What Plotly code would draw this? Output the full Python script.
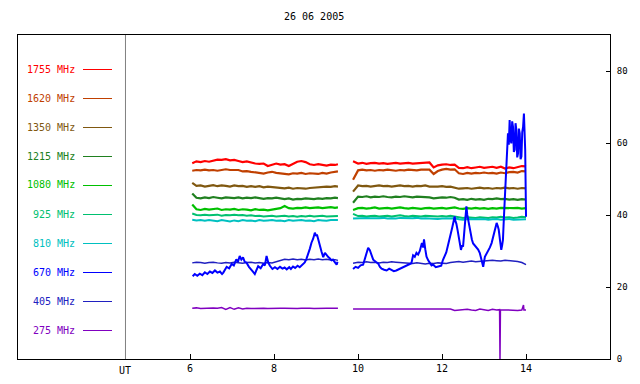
import plotly.graph_objects as go

# ---------------- data ----------------
TITLE = "26 06 2005"
LABELS = ["1755 MHz", "1620 MHz", "1350 MHz", "1215 MHz", "1080 MHz",
          "925 MHz", "810 MHz", "670 MHz", "405 MHz", "275 MHz"]
COLORS = ["#ff0000", "#c04000", "#805810", "#208020", "#00c000",
          "#00c070", "#00c0c0", "#0000ff", "#2020c0", "#8000c0"]
X_TICKS = [6, 8, 10, 12, 14]
Y_TICKS = [0, 20, 40, 60, 80]

T1 = [6.05, 6.15, 6.25, 6.35, 6.45, 6.55, 6.65, 6.75, 6.85, 6.95,
      7.05, 7.15, 7.25, 7.35, 7.45, 7.55, 7.65, 7.75, 7.85, 7.95,
      8.05, 8.15, 8.25, 8.35, 8.45, 8.55, 8.65, 8.75, 8.85, 8.95,
      9.05, 9.15, 9.25, 9.35, 9.45, 9.52]
T2 = [9.88, 10.0, 10.1, 10.2, 10.3, 10.4, 10.5, 10.6, 10.7, 10.8,
      10.9, 11.0, 11.1, 11.2, 11.3, 11.4, 11.5, 11.6, 11.7, 11.8,
      11.9, 12.0, 12.1, 12.2, 12.3, 12.4, 12.5, 12.6, 12.7, 12.8,
      12.9, 13.0, 13.1, 13.2, 13.3, 13.4, 13.5, 13.6, 13.7, 13.8,
      13.9, 14.0]

F1755_A = [54.4, 54.9, 54.7, 55.0, 54.8, 55.2, 55.4, 55.3, 55.5, 55.2,
           55.3, 55.0, 54.7, 54.9, 54.5, 54.3, 54.2, 54.3, 53.6, 53.9,
           54.3, 54.0, 54.1, 53.6, 54.3, 54.8, 55.0, 54.7, 54.1, 53.9,
           54.1, 53.8, 53.7, 54.0, 53.9, 54.1]
F1755_B = [54.9, 54.3, 54.5, 54.2, 54.4, 54.5, 54.3, 54.4, 54.2, 54.3,
           54.5, 54.3, 54.4, 54.5, 54.3, 54.4, 54.6, 54.5, 54.6, 53.2,
           53.8, 54.0, 54.1, 53.9, 54.0, 53.1, 53.0, 53.3, 53.0, 53.2,
           53.4, 53.1, 53.3, 53.4, 53.1, 53.4, 52.9, 53.2, 53.0, 53.3,
           53.6, 53.5]

F1620_A = [52.3, 52.5, 52.4, 52.6, 52.4, 52.5, 52.3, 52.6, 52.7, 52.5,
           52.6, 52.5, 52.1, 52.2, 52.0, 51.9, 51.6, 51.5, 51.8, 52.0,
           51.7, 51.6, 51.5, 51.3, 51.6, 51.5, 51.7, 51.4, 51.6, 51.5,
           51.4, 51.7, 51.5, 51.8, 52.0, 52.1]
F1620_B = [49.8, 52.4, 52.6, 52.4, 52.5, 52.3, 52.5, 52.4, 52.6, 52.5,
           52.3, 52.5, 52.4, 52.6, 52.5, 52.4, 52.6, 52.7, 52.6, 51.4,
           52.2, 52.6, 52.8, 52.6, 52.7, 51.6, 51.4, 51.7, 51.5, 51.7,
           51.6, 51.8, 51.6, 51.7, 51.5, 51.8, 51.6, 51.9, 52.0, 51.8,
           52.2, 52.1]

F1350_A = [48.9, 48.1, 48.2, 47.9, 48.1, 48.3, 48.0, 48.2, 48.1, 47.9,
           48.2, 48.0, 48.1, 47.8, 48.0, 47.8, 48.0, 47.7, 47.9, 47.8,
           47.6, 47.5, 47.4, 47.6, 47.3, 47.5, 47.4, 47.3, 47.5, 47.6,
           47.8, 47.7, 47.9, 47.8, 48.0, 47.9]
F1350_B = [46.5, 48.2, 48.0, 48.1, 47.9, 48.1, 48.2, 48.0, 48.1, 47.9,
           48.0, 48.2, 48.0, 48.1, 47.9, 48.1, 48.0, 48.2, 47.9, 47.8,
           47.9, 48.0, 47.8, 47.9, 47.7, 47.3, 47.4, 47.5, 47.3, 47.4,
           47.6, 47.4, 47.5, 47.3, 47.5, 47.4, 47.6, 47.4, 47.5, 47.3,
           47.5, 47.4]

F1215_A = [46.0, 44.8, 44.6, 44.9, 44.7, 45.0, 44.8, 44.6, 44.9, 44.8,
           44.7, 44.9, 44.6, 44.8, 44.7, 44.9, 44.6, 44.5, 44.7, 44.6,
           44.8, 44.5, 44.4, 44.6, 44.3, 44.5, 44.4, 44.6, 44.5, 44.4,
           44.6, 44.5, 44.7, 44.6, 44.8, 44.7]
F1215_B = [43.4, 45.1, 45.0, 45.2, 44.9, 45.1, 45.0, 45.2, 45.0, 44.9,
           45.1, 45.0, 45.2, 45.0, 44.9, 45.1, 45.0, 45.1, 44.9, 44.6,
           44.8, 44.9, 44.8, 45.0, 44.8, 44.3, 44.4, 44.2, 44.5, 44.3,
           44.4, 44.2, 44.5, 44.4, 44.6, 44.4, 44.5, 44.3, 44.4, 44.2,
           44.4, 44.3]

F1080_A = [42.9, 41.6, 41.4, 41.7, 41.5, 41.6, 41.8, 41.4, 41.6, 41.5,
           41.7, 41.4, 41.6, 41.5, 41.3, 41.6, 41.4, 41.5, 41.3, 41.5,
           41.6, 41.9, 42.5, 41.9, 41.8, 42.0, 41.9, 42.1, 41.9, 42.0,
           42.1, 41.9, 42.0, 42.2, 42.0, 42.1]
F1080_B = [41.4, 41.9, 42.0, 41.8, 41.9, 42.1, 41.8, 41.9, 42.0, 41.8,
           41.9, 42.1, 41.9, 41.8, 42.0, 41.9, 41.7, 41.9, 42.0, 41.8,
           41.9, 42.0, 41.8, 41.9, 42.1, 41.8, 41.7, 41.9, 41.8, 42.0,
           41.8, 41.9, 41.7, 41.9, 41.8, 42.0, 41.9, 41.8, 41.9, 42.0,
           41.8, 41.9]

F925_A = [40.4, 40.0, 39.9, 40.1, 39.9, 40.0, 40.1, 39.8, 40.0, 39.9,
          40.1, 39.9, 40.0, 39.8, 39.9, 39.7, 39.8, 39.6, 39.7, 39.8,
          39.6, 39.7, 39.8, 39.6, 39.7, 39.5, 39.7, 39.6, 39.8, 39.6,
          39.7, 39.8, 39.6, 39.7, 39.8, 39.7]
F925_B = [40.3, 39.7, 39.8, 39.6, 39.7, 39.8, 39.6, 39.7, 39.8, 39.6,
          39.7, 39.9, 39.7, 39.6, 39.8, 39.7, 39.6, 39.8, 39.7, 39.5,
          39.6, 39.7, 39.6, 39.8, 39.6, 39.3, 39.2, 39.4, 39.3, 39.2,
          39.4, 39.3, 39.2, 39.4, 39.3, 39.5, 39.3, 39.4, 39.2, 39.3,
          39.5, 39.4]

F810_A = [38.7, 38.5, 38.6, 38.4, 38.6, 38.5, 38.3, 38.6, 38.4, 38.2,
          38.5, 38.3, 38.6, 38.4, 38.5, 38.3, 38.6, 38.4, 38.5, 38.6,
          38.4, 38.5, 38.3, 38.6, 38.4, 38.5, 38.6, 38.4, 38.5, 38.3,
          38.6, 38.5, 38.4, 38.6, 38.5, 38.6]
F810_B = [39.0, 39.1, 39.0, 39.2, 39.1, 39.0, 39.1, 39.2, 39.0, 39.1,
          39.0, 39.2, 39.1, 39.0, 39.1, 39.2, 39.0, 39.1, 39.0, 39.1,
          38.9, 39.0, 39.1, 39.0, 39.1, 38.8, 38.7, 38.9, 38.8, 38.7,
          38.8, 38.9, 38.7, 38.8, 38.9, 38.7, 38.8, 38.9, 38.7, 38.8,
          38.9, 38.8]

F405_A = [26.7, 26.9, 26.8, 26.6, 26.8, 26.9, 26.7, 26.6, 26.8, 26.7,
          26.9, 26.8, 26.6, 26.8, 26.9, 26.7, 26.8, 26.6, 26.8, 26.7,
          27.0, 27.5, 27.7, 27.6, 27.8, 27.6, 27.7, 27.5, 27.7, 27.6,
          27.8, 27.6, 27.7, 27.5, 27.6, 27.4]
F405_B = [26.6, 26.9, 26.8, 27.0, 26.8, 26.9, 26.7, 26.9, 26.8, 27.0,
          26.9, 26.8, 26.9, 26.6, 26.5, 26.7, 26.6, 26.4, 26.6, 26.5,
          26.7, 26.6, 26.5, 26.8, 27.0, 27.1, 26.9, 27.0, 27.2, 27.0,
          27.1, 27.3, 27.2, 27.4, 27.3, 27.2, 27.4, 27.3, 27.3, 27.1,
          26.8, 26.2]

F275_A = [14.1, 14.2, 14.0, 14.1, 14.0, 14.2, 14.1, 14.3, 13.8, 14.3,
          13.8, 14.2, 13.9, 14.1, 14.0, 14.1, 14.0, 14.1, 14.0, 14.1,
          14.0, 14.1, 14.1, 14.0, 14.1, 14.0, 14.1, 14.2, 14.1, 14.0,
          14.1, 14.0, 14.1, 14.1, 14.0, 14.1]
P_T2 = [9.88, 10.0, 10.1, 10.2, 10.3, 10.4, 10.5, 10.6, 10.7, 10.8,
        10.9, 11.0, 11.1, 11.2, 11.3, 11.4, 11.5, 11.6, 11.7, 11.8,
        11.9, 12.0, 12.1, 12.2, 12.3, 12.4, 12.5, 12.6, 12.7, 12.8,
        12.9, 13.0, 13.1, 13.2, 13.3, 13.37, 13.38, 13.39, 13.5, 13.6,
        13.7, 13.8, 13.9, 13.94, 13.95, 13.96, 14.0]
F275_B = [13.9, 13.9, 13.8, 13.9, 13.8, 13.9, 13.8, 14.0, 13.8, 13.9,
          13.8, 13.9, 13.8, 13.9, 13.8, 13.9, 13.8, 13.9, 13.8, 13.9,
          13.8, 13.9, 13.8, 13.9, 13.5, 13.6, 13.5, 13.8, 13.6, 13.5,
          13.9, 13.6, 13.5, 13.8, 13.6, 13.7, 0.0, 13.7, 13.6, 13.5,
          13.6, 13.5, 13.6, 15.0, 13.6, 13.6, 13.6]

B670_T1 = [6.06, 6.11, 6.17, 6.23, 6.29, 6.35, 6.41, 6.47, 6.53, 6.59,
           6.65, 6.71, 6.76, 6.79, 6.84, 6.87, 6.93, 6.99, 7.04, 7.10,
           7.14, 7.18, 7.22, 7.26, 7.30, 7.34, 7.40, 7.46, 7.50, 7.54,
           7.58, 7.62, 7.68, 7.74, 7.78, 7.82, 7.86, 7.90, 7.96, 8.02,
           8.08, 8.14, 8.20, 8.25, 8.30, 8.36, 8.40, 8.45, 8.50, 8.56,
           8.61, 8.67, 8.73, 8.77, 8.81, 8.85, 8.89, 8.93, 8.97, 9.00,
           9.02, 9.06, 9.09, 9.13, 9.17, 9.21, 9.25, 9.29, 9.33, 9.37,
           9.40, 9.44, 9.49, 9.51]
B670_V1 = [23.0, 23.6, 23.1, 23.7, 23.3, 24.1, 23.6, 24.3, 23.9, 24.6,
           24.0, 24.3, 23.6, 24.0, 25.0, 25.6, 25.2, 26.4, 26.0, 27.7,
           27.0, 28.6, 27.6, 28.2, 27.0, 26.8, 25.6, 24.9, 24.2, 23.6,
           24.8, 25.8, 25.2, 26.4, 26.0, 28.6, 26.8, 25.9, 25.0, 25.5,
           25.0, 25.6, 25.1, 25.4, 24.9, 25.5, 25.0, 25.7, 25.3, 25.9,
           25.5, 26.2, 26.8, 27.8, 29.0, 30.6, 32.3, 33.4, 35.1, 34.2,
           34.6, 32.5, 31.5, 29.8, 28.3, 29.5, 28.8, 28.3, 27.9, 27.4,
           27.6, 26.8, 26.2, 27.0]
B670_T2 = [9.88, 9.94, 10.00, 10.06, 10.12, 10.17, 10.21, 10.24, 10.28, 10.32,
           10.36, 10.42, 10.48, 10.52, 10.56, 10.62, 10.68, 10.74, 10.79, 10.85,
           10.91, 10.97, 11.03, 11.09, 11.15, 11.21, 11.27, 11.31, 11.35, 11.39,
           11.43, 11.47, 11.52, 11.55, 11.57, 11.60, 11.63, 11.67, 11.71, 11.75,
           11.79, 11.85, 11.91, 11.98, 12.02, 12.06, 12.10, 12.14, 12.18, 12.21,
           12.24, 12.27, 12.30, 12.32, 12.34, 12.37, 12.40, 12.43, 12.45, 12.48,
           12.50, 12.52, 12.54, 12.56, 12.58, 12.60, 12.62, 12.65, 12.68, 12.71,
           12.74, 12.78, 12.82, 12.86, 12.90, 12.94, 12.98, 13.02, 13.06, 13.10,
           13.14, 13.18, 13.21, 13.24, 13.27, 13.30, 13.33, 13.35, 13.38, 13.41,
           13.43, 13.45, 13.47, 13.49, 13.51, 13.53, 13.55, 13.57, 13.59, 13.61,
           13.63, 13.65, 13.67, 13.69, 13.71, 13.73, 13.75, 13.77, 13.79, 13.81,
           13.83, 13.85, 13.87, 13.89, 13.91, 13.93, 13.95, 13.97, 13.98, 14.00]
B670_V2 = [25.0, 25.6, 25.3, 26.0, 26.2, 28.4, 29.6, 30.9, 30.2, 29.0,
           27.6, 27.0, 26.5, 25.6, 25.1, 24.8, 24.6, 25.1, 24.8, 24.4,
           24.6, 24.9, 25.2, 25.5, 25.8, 26.2, 26.6, 28.8, 28.4, 29.5,
           29.0, 30.0, 32.2, 31.0, 33.2, 30.5, 28.4, 27.4, 26.6, 26.0,
           26.2, 25.5, 25.7, 25.9, 27.5, 28.5, 29.6, 31.5, 33.2, 34.8,
           36.4, 38.0, 39.6, 38.2, 37.6, 35.8, 34.0, 32.0, 30.3, 31.6,
           31.2, 34.0, 36.9, 39.5, 42.4, 40.1, 38.6, 36.8, 34.9, 33.2,
           32.1, 31.6, 31.2, 30.4, 29.4, 27.8, 25.6, 28.4, 29.2, 29.8,
           31.0, 32.2, 33.6, 34.9, 36.2, 37.8, 36.8, 35.9, 33.0, 30.3,
           31.5, 33.1, 38.5, 44.2, 48.6, 53.4, 58.0, 62.7, 59.5, 66.4,
           61.0, 59.9, 66.0, 64.5, 57.5, 58.1, 65.5, 63.6, 56.0, 57.1,
           64.0, 62.7, 55.5, 56.2, 63.0, 64.5, 68.2, 60.0, 58.1, 39.5]

UT_POS = 4.46

# ---------------- figure ----------------
def seg(ta, va, tb, vb):
    assert len(ta) == len(va) and len(tb) == len(vb), (len(ta), len(va), len(tb), len(vb))
    return list(ta) + [None] + list(tb), list(va) + [None] + list(vb)

series = [
    (T1, F1755_A, T2, F1755_B, 0, 2.2),
    (T1, F1620_A, T2, F1620_B, 1, 2.2),
    (T1, F1350_A, T2, F1350_B, 2, 2.2),
    (T1, F1215_A, T2, F1215_B, 3, 2.2),
    (T1, F1080_A, T2, F1080_B, 4, 2.2),
    (T1, F925_A, T2, F925_B, 5, 2),
    (T1, F810_A, T2, F810_B, 6, 2),
    (T1, F405_A, T2, F405_B, 8, 1.5),
    (T1, F275_A, P_T2, F275_B, 9, 1.5),
    (B670_T1, B670_V1, B670_T2, B670_V2, 7, 2),
]

fig = go.Figure()
for ta, va, tb, vb, ci, w in series:
    x, y = seg(ta, va, tb, vb)
    fig.add_trace(go.Scatter(x=x, y=y, mode="lines",
                             line=dict(color=COLORS[ci], width=w),
                             name=LABELS[ci], connectgaps=False))

# page body has an 8px default margin; the figure is sized so that the
# plot frame lands on the reference's pixel positions
OFF = 8
L, R, TOP, BOT = 18, 610, 35, 359
W, H = R - L, BOT - TOP
annotations = []
shapes = []
for i, (lab, col) in enumerate(zip(LABELS, COLORS)):
    ypx = 69 + 29 * i
    yp = (BOT - ypx) / H
    annotations.append(dict(text=lab, x=(77 - L) / W, y=yp, xref="paper", yref="paper",
                            xanchor="right", yanchor="middle", showarrow=False,
                            font=dict(family="DejaVu Sans Mono", size=10, color=col)))
    yl = (BOT - ypx - 0.5) / H
    shapes.append(dict(type="line", xref="paper", yref="paper",
                       x0=(83 - L) / W, x1=(112 - L) / W, y0=yl, y1=yl,
                       line=dict(color=col, width=1)))

shapes.append(dict(type="line", xref="x", yref="paper", x0=UT_POS, x1=UT_POS,
                   y0=0, y1=1, line=dict(color="#808080", width=1)))
annotations.append(dict(text="UT", x=UT_POS, y=-(370 - BOT) / H, xref="x", yref="paper",
                        xanchor="center", yanchor="middle", showarrow=False,
                        font=dict(family="DejaVu Sans Mono", size=10, color="black")))
annotations.append(dict(text=TITLE, x=0.5, y=1 + (TOP - 17) / H, xref="paper", yref="paper",
                        xanchor="center", yanchor="middle", showarrow=False,
                        font=dict(family="DejaVu Sans Mono", size=10, color="black")))

fig.update_layout(
    width=640 - OFF, height=384 - OFF,
    margin=dict(l=L - OFF, r=640 - R, t=TOP - OFF, b=384 - BOT, pad=0),
    plot_bgcolor="white", paper_bgcolor="white",
    showlegend=False,
    font=dict(family="DejaVu Sans Mono", size=10, color="black"),
    annotations=annotations, shapes=shapes,
    xaxis=dict(range=[1.9, 16], tickvals=X_TICKS, ticktext=[str(v) for v in X_TICKS],
               ticks="inside", ticklen=5, tickcolor="black",
               showline=True, mirror=True, linecolor="black", linewidth=1,
               showgrid=False, zeroline=False, automargin=False,
               tickfont=dict(family="DejaVu Sans Mono", size=10)),
    yaxis=dict(range=[0, 90], side="right", tickvals=Y_TICKS,
               ticks="inside", ticklen=4, tickcolor="black",
               showline=True, mirror=True, linecolor="black", linewidth=1,
               showgrid=False, zeroline=False, automargin=False,
               ticklabelstandoff=4,
               tickfont=dict(family="DejaVu Sans Mono", size=9)),
)

fig.write_html("out.html")
